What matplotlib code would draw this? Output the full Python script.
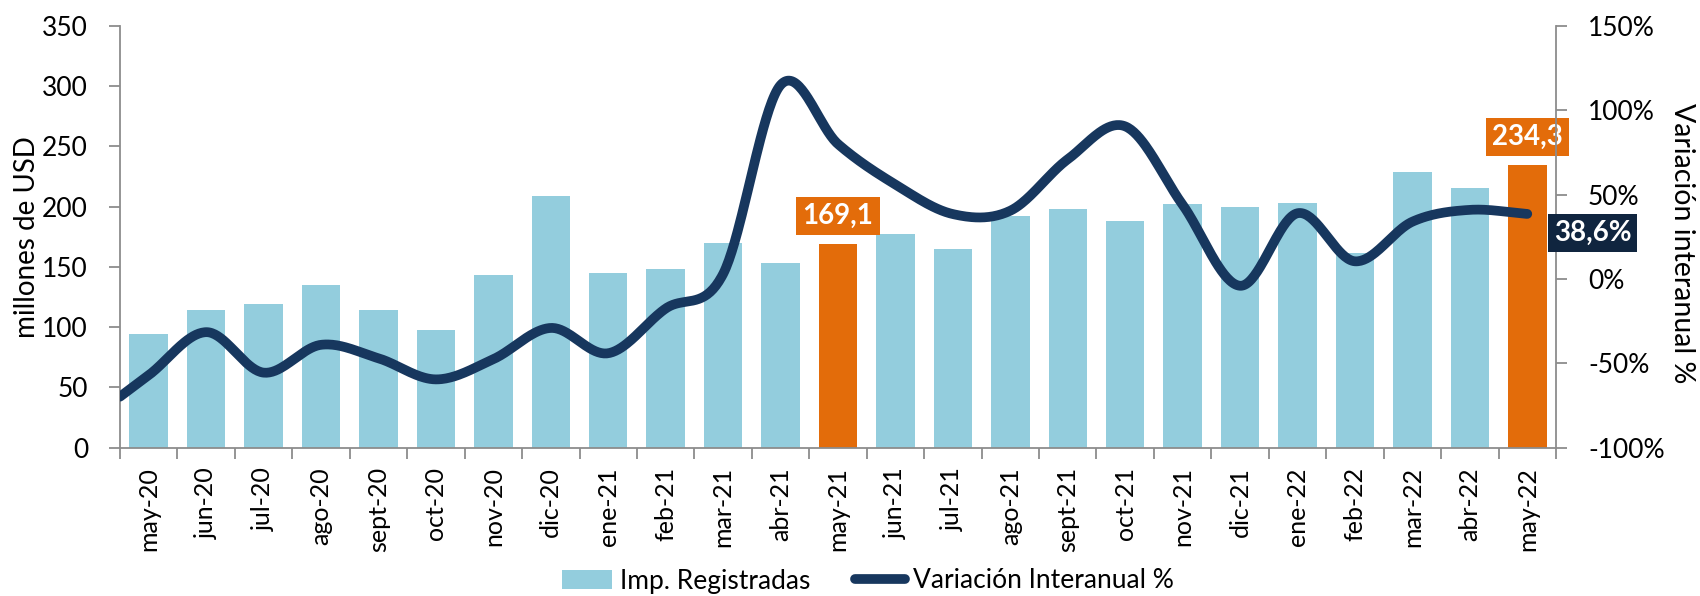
import numpy as np
import matplotlib
matplotlib.use("Agg")
import matplotlib.pyplot as plt
from matplotlib.lines import Line2D
from matplotlib.patches import Patch

plt.rcParams['font.family'] = ['Lato', 'DejaVu Sans']

months = ["may-20", "jun-20", "jul-20", "ago-20", "sept-20", "oct-20", "nov-20", "dic-20",
          "ene-21", "feb-21", "mar-21", "abr-21", "may-21", "jun-21", "jul-21", "ago-21",
          "sept-21", "oct-21", "nov-21", "dic-21", "ene-22", "feb-22", "mar-22", "abr-22", "may-22"]
imports = [94, 114, 119, 135, 114, 98, 143.5, 208.7,
           145, 148, 170, 153, 169.1, 177.5, 165, 192,
           198, 188, 202.4, 199.6, 203.2, 161.5, 229.2, 215.4, 234.3]
variation = [-57, -31.5, -55.5, -39, -47, -59.5, -47.5, -29,
             -44, -17.5, 3, 115, 80, 56, 38.5, 40.5,
             71, 90.5, 44, -4, 39, 10.5, 34, 41, 38.6]
highlight = ["may-21", "may-22"]
left_ticks = [0, 50, 100, 150, 200, 250, 300, 350]
right_ticks = [-100, -50, 0, 50, 100, 150]

C_BAR = "#93CDDD"
C_HI = "#E36C0A"
C_LINE = "#17375E"
C_BOX = "#10253F"
C_AX = "#8C8C8C"

W, H = 1700, 596
fig = plt.figure(figsize=(W / 100, H / 100), dpi=100)
ax = fig.add_axes([120 / W, 1 - 447.7 / H, 1436 / W, (447.7 - 26) / H])
ax2 = ax.twinx()

x = np.arange(len(months))
colors = [C_HI if m in highlight else C_BAR for m in months]
ax.bar(x, imports, width=0.67, color=colors, zorder=2)
ax.set_xlim(-0.5, len(months) - 0.5)
ax.set_ylim(0, 350)
ax.set_yticks(left_ticks)
ax.set_yticklabels([str(t) for t in left_ticks])
ax.set_xticks(x)
ax.set_xticklabels(months, rotation=90, va="top", ha="center")
ax.set_xticks(np.arange(len(months) + 1) - 0.5, minor=True)
ax.tick_params(axis="x", which="major", length=0, pad=14, labelsize=18)
ax.tick_params(axis="x", which="minor", length=8, width=1.3, color=C_AX)
ax.tick_params(axis="y", length=8, width=1.3, color=C_AX, pad=15, labelsize=19)

ax2.set_ylim(-100, 150)
ax2.set_yticks(right_ticks)
ax2.set_yticklabels([f"{t}%" for t in right_ticks])
ax2.tick_params(axis="y", length=8, width=1.3, color=C_AX, pad=15, labelsize=19)

for a in (ax, ax2):
    a.spines["top"].set_visible(False)
    for s in ("left", "right", "bottom"):
        a.spines[s].set_color(C_AX)
        a.spines[s].set_linewidth(1.3)
ax.spines["right"].set_visible(False)
ax2.spines["left"].set_visible(False)
ax2.spines["bottom"].set_visible(False)

# smoothed line (cubic Hermite / Catmull-Rom like Excel smoothing)
ys = np.array(variation, dtype=float)
xs = x.astype(float)
m = np.empty_like(ys)
m[1:-1] = (ys[2:] - ys[:-2]) / 2
m[0] = ys[1] - ys[0]
m[-1] = ys[-1] - ys[-2]
px, py = [xs[0] - 0.5], [ys[0] - 0.5 * m[0]]
t = np.linspace(0, 1, 40, endpoint=False)
h00 = 2 * t**3 - 3 * t**2 + 1
h10 = t**3 - 2 * t**2 + t
h01 = -2 * t**3 + 3 * t**2
h11 = t**3 - t**2
for i in range(len(xs) - 1):
    px.extend(xs[i] + t)
    py.extend(h00 * ys[i] + h10 * m[i] + h01 * ys[i + 1] + h11 * m[i + 1])
px.append(xs[-1])
py.append(ys[-1])
ax2.plot(px, py, color=C_LINE, lw=7, solid_capstyle="round", zorder=3)

# data labels
for m_, v in zip(months, imports):
    if m_ in highlight:
        i = months.index(m_)
        ax.annotate(f"{v:.1f}".replace(".", ","), (i, v), xytext=(0, 11),
                    textcoords="offset points", ha="center", va="bottom",
                    fontsize=20, fontweight="bold", color="white", zorder=6,
                    bbox=dict(boxstyle="square,pad=0.22", fc=C_HI, ec="none"))

last = len(months) - 1
ax2.annotate(f"{variation[-1]:.1f}%".replace(".", ","), (last, variation[-1]),
             xytext=(47, -14), textcoords="offset points", ha="center", va="center",
             fontsize=20, fontweight="bold", color="white", zorder=10,
             annotation_clip=False,
             bbox=dict(boxstyle="square,pad=0.22", fc=C_BOX, ec="none"))

fig.text(27 / W, 1 - 237 / H, "millones de USD", rotation=90, ha="center", va="center", fontsize=20)
fig.text(1682 / W, 1 - 243 / H, "Variación interanual %", rotation=270, ha="center", va="center", fontsize=20.5)

handles = [Patch(facecolor=C_BAR, edgecolor="none"),
           Line2D([0], [0], color=C_LINE, lw=7, solid_capstyle="round")]
fig.legend(handles, ["Imp. Registradas", "Variación Interanual %"], loc="center",
           bbox_to_anchor=(868 / W, 1 - 581 / H), ncol=2, frameon=False, fontsize=19,
           handlelength=1.9, handletextpad=0.3, columnspacing=1.7)

fig.savefig("out.png", dpi=100)
